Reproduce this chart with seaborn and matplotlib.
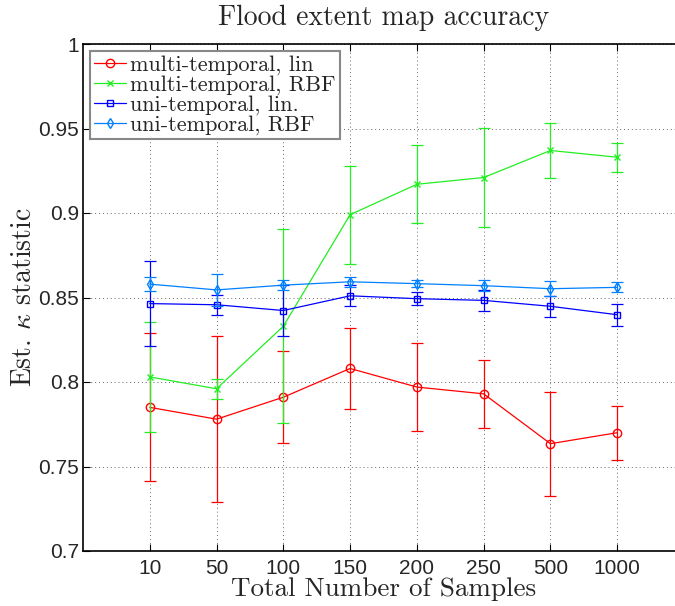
import matplotlib
matplotlib.use("Agg")
import matplotlib.pyplot as plt
import seaborn as sns
import numpy as np
import pandas as pd

sns.set_style("white")
plt.rcParams['mathtext.fontset'] = 'cm'
plt.rcParams['axes.unicode_minus'] = False

x_labels = ["10", "50", "100", "150", "200", "250", "500", "1000"]
x_pos = list(range(1, 9))

series_names = ["multi-temporal, lin", "multi-temporal, RBF", "uni-temporal, lin.", "uni-temporal, RBF"]

mt_lin = [0.785, 0.778, 0.791, 0.808, 0.797, 0.793, 0.7635, 0.770]
mt_lin_err = [0.0437, 0.049, 0.0273, 0.024, 0.026, 0.0203, 0.0307, 0.0159]

mt_rbf = [0.803, 0.796, 0.833, 0.899, 0.917, 0.921, 0.937, 0.933]
mt_rbf_err = [0.0325, 0.006, 0.0575, 0.029, 0.023, 0.029, 0.016, 0.0086]

ut_lin = [0.8464, 0.8457, 0.8423, 0.851, 0.8493, 0.8483, 0.8448, 0.8398]
ut_lin_err = [0.025, 0.006, 0.015, 0.0063, 0.004, 0.006, 0.0063, 0.0066]

ut_rbf = [0.8579, 0.8545, 0.8573, 0.8593, 0.8582, 0.857, 0.8552, 0.856]
ut_rbf_err = [0.004, 0.0097, 0.003, 0.0028, 0.002, 0.0032, 0.0044, 0.003]

values = [mt_lin, mt_rbf, ut_lin, ut_rbf]
errors = [mt_lin_err, mt_rbf_err, ut_lin_err, ut_rbf_err]
colors = ["#ff0000", "#22ee22", "#0000ff", "#0080ff"]
markers = ["o", "x", "s", "d"]
msizes = [6, 4.5, 5, 5.5]

fig = plt.figure(figsize=(6.75, 6.06), dpi=100)
ax = fig.add_axes([83/675, 55/606, (684-83)/675, 507/606])

for name, v, e, c, m, ms in zip(series_names, values, errors, colors, markers, msizes):
    df = pd.DataFrame({"x": x_pos, "y": v})
    sns.lineplot(data=df, x="x", y="y", ax=ax, color=c, marker=m, markersize=ms,
                 markerfacecolor="none", markeredgecolor=c, markeredgewidth=1.0,
                 linewidth=0.9, label=name, zorder=3)
    ax.errorbar(x_pos, v, yerr=e, fmt="none", ecolor=c, elinewidth=0.9,
                capsize=4, capthick=0.9, zorder=3)

ax.set_xlim(0, 9)
ax.set_ylim(0.7, 1.0)
ax.set_xticks(x_pos)
ax.set_xticklabels(x_labels)
yt = [0.7, 0.75, 0.8, 0.85, 0.9, 0.95, 1.0]
ax.set_yticks(yt)
ax.set_yticklabels(["0.7", "0.75", "0.8", "0.85", "0.9", "0.95", "1"])

for lab in ax.get_xticklabels() + ax.get_yticklabels():
    lab.set_fontfamily("Liberation Sans")
    lab.set_fontsize(15)

ax.tick_params(axis="both", direction="in", length=5, width=0.8, color="black",
               top=True, right=False, bottom=True, left=True)
ax.tick_params(axis="x", pad=5.5)
ax.tick_params(axis="y", pad=3)

ax.grid(True, linestyle=(0, (1, 3)), color="#666666", linewidth=0.7)
for side in ["left", "bottom", "top"]:
    ax.spines[side].set_visible(True)
    ax.spines[side].set_color("black")
    ax.spines[side].set_linewidth(1.2)
ax.spines["right"].set_visible(False)

ax.set_title("Flood extent map accuracy", fontfamily="cmr10", fontsize=20, pad=14)
ax.set_xlabel("Total Number of Samples", fontfamily="cmr10", fontsize=19.5, labelpad=0)
ax.set_ylabel(r"Est. $\kappa$ statistic", fontfamily="cmr10", fontsize=20)
ax.yaxis.set_label_coords(-0.077, 0.5)

leg = ax.legend(loc="upper left", prop={"family": "cmr10", "size": 16},
                frameon=True, fancybox=False, edgecolor="#888888",
                handlelength=1.45, handletextpad=0.15, borderpad=0.2,
                labelspacing=0.0, borderaxespad=0.3, framealpha=1)
leg.get_frame().set_linewidth(1.5)

fig.savefig("out.png", dpi=100)
